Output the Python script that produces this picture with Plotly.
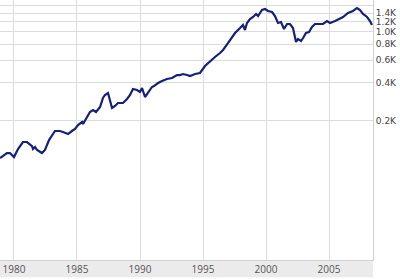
import plotly.graph_objects as go

years = [1978.89, 1979.44, 1979.68, 1980.0, 1980.32, 1980.71, 1981.03, 1981.43, 1981.51, 1981.67,
         1981.83, 1982.22, 1982.46, 1982.78, 1983.25, 1983.65, 1983.89, 1984.29, 1984.60, 1984.84,
         1985.08, 1985.40, 1985.48, 1985.79, 1986.03, 1986.27, 1986.51, 1986.83, 1987.06, 1987.22,
         1987.46, 1987.78, 1988.02, 1988.25, 1988.65, 1988.97, 1989.21, 1989.44, 1989.76, 1990.0,
         1990.16, 1990.40, 1990.63, 1990.95, 1991.11, 1991.43, 1991.75, 1992.14, 1992.54, 1992.94,
         1993.17, 1993.41, 1993.73, 1993.97, 1994.37, 1994.60, 1994.76, 1995.16, 1995.56, 1995.95,
         1996.35, 1996.59, 1996.98, 1997.30, 1997.54, 1997.94, 1998.17, 1998.33, 1998.49, 1998.73,
         1998.97, 1999.21, 1999.37, 1999.68, 1999.92, 2000.16, 2000.48, 2000.71, 2000.95, 2001.19,
         2001.43, 2001.67, 2001.90, 2002.14, 2002.38, 2002.54, 2002.78, 2002.94, 2003.17, 2003.41,
         2003.65, 2003.89, 2004.29, 2004.52, 2004.84, 2005.08, 2005.48, 2005.87, 2006.11, 2006.51,
         2006.90, 2007.22, 2007.46, 2007.70, 2008.02, 2008.25, 2008.41]

values = [101.7, 111.4, 111.4, 103.6, 119.8, 136.0, 136.0, 126.4, 119.8, 124.2,
          117.7, 111.4, 117.7, 141.0, 166.0, 166.0, 163.0, 157.2, 166.0, 172.1,
          185.1, 195.4, 188.4, 213.8, 234.2, 242.7, 234.2, 256.4, 301.9, 318.8,
          330.5, 251.8, 261.1, 275.7, 275.7, 296.4, 318.8, 355.2, 348.8, 336.4,
          361.9, 307.4, 330.5, 368.5, 375.1, 396.1, 410.7, 425.8, 433.6, 457.6,
          457.6, 466.0, 457.6, 449.5, 466.0, 474.7, 474.7, 538.7, 589.8, 634.3,
          682.1, 720.2, 817.3, 911.4, 979.7, 1072.7, 1132.7, 1034.6, 1174.5, 1262.7,
          1309.3, 1382.4, 1333.2, 1486.2, 1513.4, 1459.6, 1433.3, 1333.2, 1174.5, 1196.0,
          1053.4, 1153.2, 1153.2, 1072.7, 832.2, 878.9, 847.7, 894.9, 979.7, 997.8,
          1092.4, 1153.2, 1153.2, 1153.2, 1217.7, 1174.5, 1217.7, 1285.9, 1309.3, 1407.7,
          1459.6, 1541.1, 1486.2, 1382.4, 1309.3, 1217.7, 1132.7]

x_ticks = [1980, 1985, 1990, 1995, 2000, 2005]
x_labels = ["1980", "1985", "1990", "1995", "2000", "2005"]
y_ticks = [200, 400, 600, 800, 1000, 1200, 1400, 1600]
y_labels = ["0.2K", "0.4K", "0.6K", "0.8K", "1.0K", "1.2K", "1.4K", ""]

fig = go.Figure()
fig.add_trace(go.Scatter(x=years, y=values, mode="lines",
                         line=dict(color="#16207a", width=2.2), hoverinfo="skip"))

# grey band under the x axis
fig.add_shape(type="rect", xref="paper", yref="paper", x0=0, x1=1, y0=-0.066, y1=0,
              fillcolor="#ebebeb", line=dict(width=0), layer="below")

fig.update_layout(
    width=400, height=279,
    margin=dict(l=0, r=27, t=0, b=19),
    paper_bgcolor="white", plot_bgcolor="white",
    showlegend=False,
    xaxis=dict(range=[1978.89, 2008.49], tickvals=x_ticks, ticktext=x_labels,
               showgrid=True, gridcolor="#dcdcdc", gridwidth=1, zeroline=False,
               showline=True, linecolor="#d0d0d0", linewidth=1, mirror=False,
               ticks="", tickfont=dict(family="Open Sans", size=10, color="#555555")),
    yaxis=dict(type="log", range=[1.2055, 3.2507], side="right",
               tickvals=y_ticks, ticktext=y_labels,
               showgrid=True, gridcolor="#dcdcdc", gridwidth=1, zeroline=False,
               showline=True, linecolor="#d0d0d0", linewidth=1,
               ticks="", tickfont=dict(family="DejaVu Sans", size=9, color="#444444")),
)

fig.write_html("out.html")
